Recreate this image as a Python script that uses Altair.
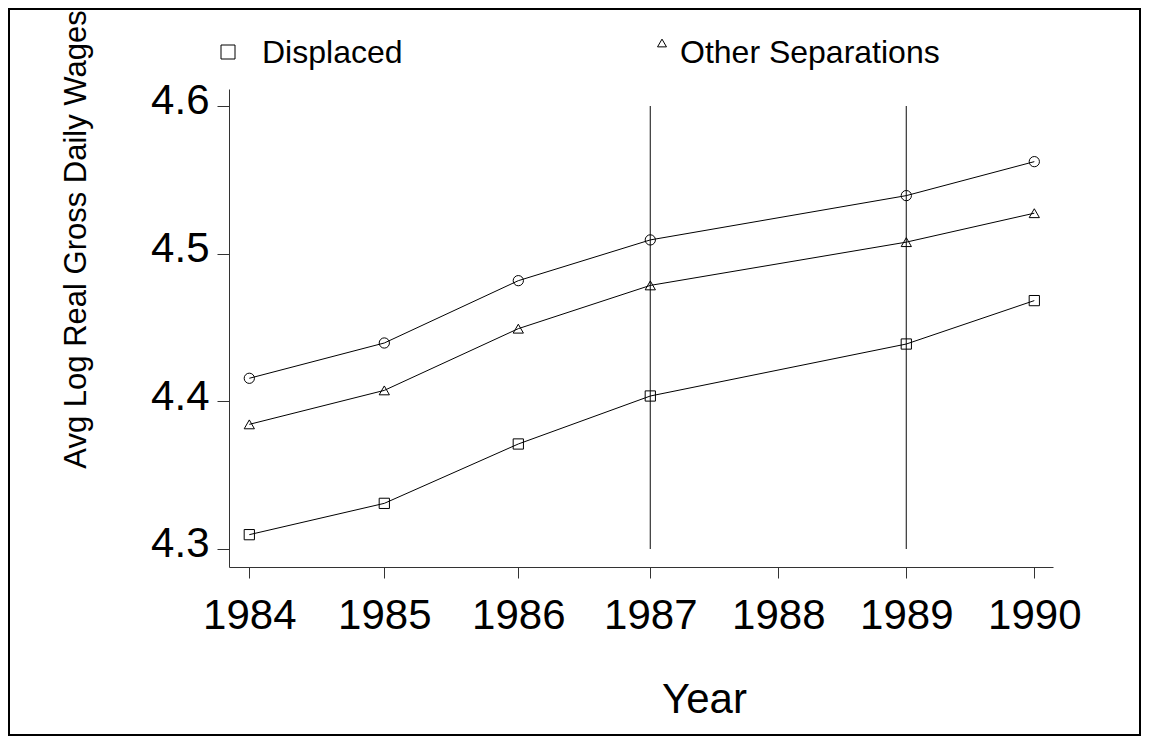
import altair as alt
import pandas as pd

# ---- data ----
years = [1984, 1985, 1986, 1987, 1989, 1990]
stayers = [4.4156, 4.4395, 4.4817, 4.5093, 4.5393, 4.5623]          # circles
other_separations = [4.3844, 4.4074, 4.4492, 4.4785, 4.5078, 4.5274]  # triangles
displaced = [4.3097, 4.3309, 4.3711, 4.4036, 4.4388, 4.4682]          # squares

series_names = ["Stayers", "Other Separations", "Displaced"]
series_shapes = ["circle", "triangle-up", "square"]

rule_years = [1987, 1989]
rule_low = [4.3, 4.3]
rule_high = [4.6, 4.6]

x_ticks = [1984, 1985, 1986, 1987, 1988, 1989, 1990]
y_ticks = [4.3, 4.4, 4.5, 4.6]

legend_labels = ["Displaced", "Other Separations"]

FONT = "Liberation Sans, Arial, Helvetica, sans-serif"
W, H = 824, 478

rows = []
for name, vals in zip(series_names, [stayers, other_separations, displaced]):
    for yr, v in zip(years, vals):
        rows.append({"year": yr, "value": v, "series": name})
df = pd.DataFrame(rows)
rules_df = pd.DataFrame({"year": rule_years, "value": rule_low, "hi": rule_high})

xscale = alt.Scale(
    domain=[1983.845, 1984, 1985, 1986, 1987, 1990, 1990.145],
    range=[0, 20.3, 155.3, 289.3, 421.3, 805.3, W],
)
yscale = alt.Scale(domain=[4.2878, 4.6115], nice=False, zero=False)

xaxis = alt.Axis(
    values=x_ticks, format="d", grid=False,
    labelFont=FONT, labelFontSize=42, labelColor="black", labelPadding=17,
    tickSize=11, tickColor="#333", domainColor="#333", tickWidth=1, domainWidth=1,
    title="Year", titleFont=FONT, titleFontSize=42, titleFontWeight="normal",
    titleColor="black", titleX=475, titleY=145, titleBaseline="alphabetic",
    titleAlign="center",
)
yaxis = alt.Axis(
    values=y_ticks, format=".1f", grid=False,
    labelFont=FONT, labelFontSize=42, labelColor="black", labelPadding=8,
    labelBaseline="middle", labelOffset=-5,
    tickSize=12, tickColor="#333", domainColor="#333", tickWidth=1, domainWidth=1,
    title="Avg Log Real Gross Daily Wages", titleFont=FONT, titleFontSize=31,
    titleFontWeight="normal", titleColor="black", titleAngle=270,
    titleX=-144, titleY=150, titleBaseline="alphabetic", titleAlign="center",
)

x_enc = alt.X("year:Q", scale=xscale, axis=xaxis)
y_enc = alt.Y("value:Q", scale=yscale, axis=yaxis)

rules = alt.Chart(rules_df).mark_rule(color="#333", strokeWidth=1.2).encode(
    x=x_enc, y=y_enc, y2="hi:Q"
)

lines = alt.Chart(df).mark_line(color="black", strokeWidth=1).encode(
    x=x_enc, y=y_enc, detail="series:N"
)

points = alt.Chart(df).mark_point(
    filled=False, size=105, color="black", strokeWidth=1, opacity=1
).encode(
    x=x_enc, y=y_enc,
    shape=alt.Shape("series:N", scale=alt.Scale(domain=series_names, range=series_shapes), legend=None),
)

# manual legend (Stata style, above the plot)
leg1 = pd.DataFrame({"label": [legend_labels[0]]})
leg2 = pd.DataFrame({"label": [legend_labels[1]]})
leg_sym1 = alt.Chart(leg1).mark_point(shape="square", size=196, filled=False, color="black",
                                      strokeWidth=1, opacity=1).encode(
    x=alt.value(-1), y=alt.value(-37))
leg_txt1 = alt.Chart(leg1).mark_text(align="left", baseline="alphabetic", font=FONT,
                                     fontSize=32, color="black").encode(
    x=alt.value(33), y=alt.value(-26), text="label:N")
leg_sym2 = alt.Chart(leg2).mark_point(shape="triangle-up", size=80, filled=False, color="black",
                                      strokeWidth=1, opacity=1).encode(
    x=alt.value(433), y=alt.value(-46))
leg_txt2 = alt.Chart(leg2).mark_text(align="left", baseline="alphabetic", font=FONT,
                                     fontSize=32, color="black").encode(
    x=alt.value(451), y=alt.value(-26), text="label:N")

border = alt.Chart(pd.DataFrame({"b": [0]})).mark_rect(
    fillOpacity=0, stroke="black", strokeWidth=2
).encode(x=alt.value(-220), x2=alt.value(911), y=alt.value(-80), y2=alt.value(646))

chart = alt.layer(
    border, rules, lines, points, leg_sym1, leg_txt1, leg_sym2, leg_txt2
).properties(
    width=W, height=H,
    autosize=alt.AutoSizeParams(type="none"),
    padding={"left": 221, "top": 81, "right": 88, "bottom": 169},
    background="white",
).configure_view(stroke=None)

chart.save("out.html", embed_options={"renderer": "svg", "actions": False})
